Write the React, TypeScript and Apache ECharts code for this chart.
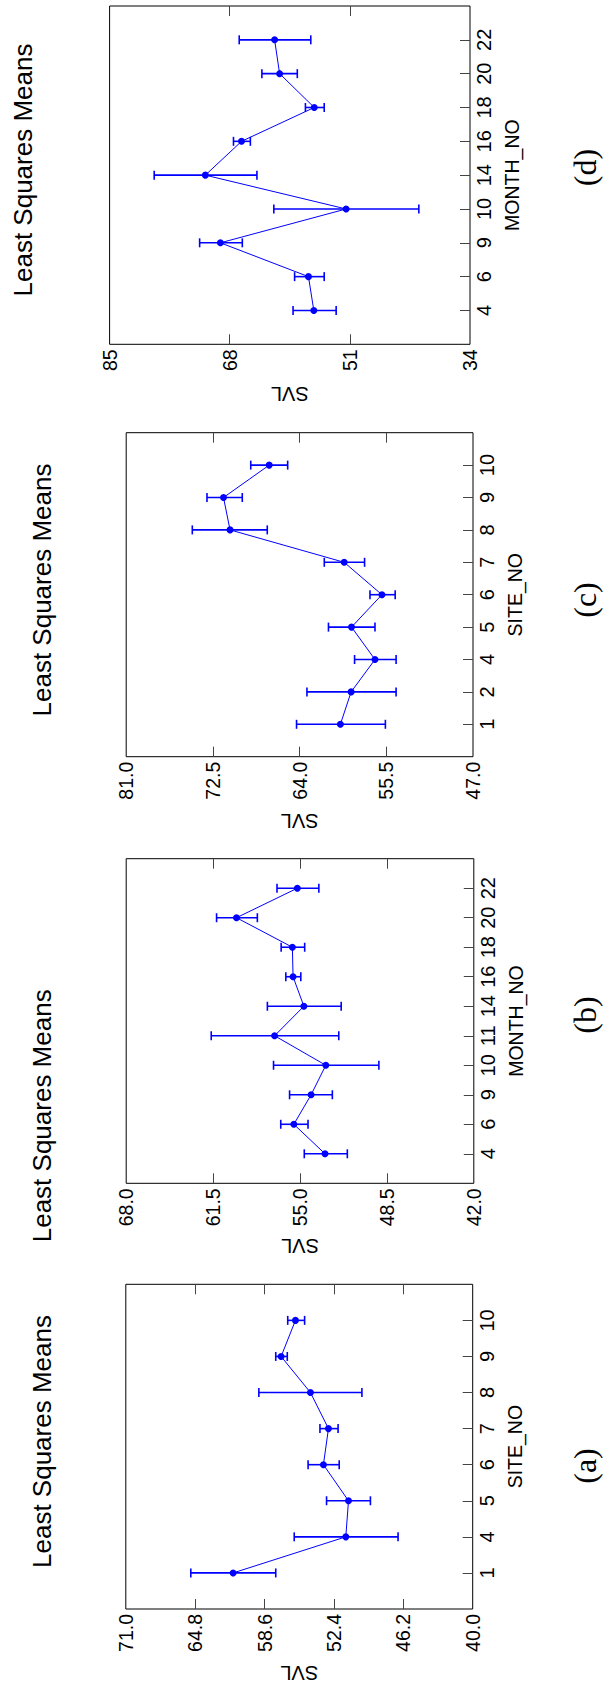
import React, { useEffect, useRef } from "react";
import * as echarts from "echarts";

// ---------- Data ----------
// Panel (d): SVL by MONTH_NO
const dCategories = ["4", "6", "9", "10", "14", "16", "18", "20", "22"];
const dMeans = [56.1, 56.86, 69.32, 51.53, 71.45, 66.33, 56.04, 60.94, 61.65];
const dLower = [52.94, 54.63, 66.22, 41.24, 64.15, 65.08, 54.63, 58.44, 56.53];
const dUpper = [59.04, 58.82, 72.26, 61.76, 78.69, 67.47, 57.29, 63.45, 66.66];
const dTicks = [34, 51, 68, 85];

// Panel (c): SVL by SITE_NO
const cCategories = ["1", "2", "4", "5", "6", "7", "8", "9", "10"];
const cMeans = [60.0, 58.95, 56.61, 58.91, 55.93, 59.63, 70.82, 71.46, 66.98];
const cLower = [55.59, 54.54, 54.54, 56.61, 54.63, 57.63, 67.17, 69.62, 65.17];
const cUpper = [64.3, 63.28, 58.61, 61.17, 57.1, 61.58, 74.52, 73.08, 68.79];
const cTicks = [47.0, 55.5, 64.0, 72.5, 81.0];

// Panel (b): SVL by MONTH_NO
const bCategories = ["4", "6", "9", "10", "11", "14", "16", "18", "20", "22"];
const bMeans = [53.13, 55.46, 54.17, 53.07, 56.9, 54.71, 55.52, 55.57, 59.75, 55.2];
const bLower = [51.46, 54.4, 52.58, 49.1, 52.1, 51.92, 54.94, 54.65, 58.19, 53.59];
const bUpper = [54.68, 56.44, 55.78, 56.98, 61.64, 57.44, 56.06, 56.41, 61.24, 56.72];
const bTicks = [42.0, 48.5, 55.0, 61.5, 68.0];

// Panel (a): SVL by SITE_NO
const aCategories = ["1", "4", "5", "6", "7", "8", "9", "10"];
const aMeans = [61.41, 51.34, 51.1, 53.34, 52.89, 54.5, 57.12, 55.84];
const aLower = [57.6, 46.67, 49.14, 51.93, 52.03, 49.9, 56.57, 55.02];
const aUpper = [65.19, 55.95, 53.06, 54.71, 53.65, 59.11, 57.6, 56.53];
const aTicks = [40.0, 46.2, 52.4, 58.6, 64.8, 71.0];

const titleText = "Least Squares Means";
const valueName = "SVL";
const captions = ["(d)", "(c)", "(b)", "(a)"];
const categoryNames = ["MONTH_NO", "SITE_NO", "MONTH_NO", "SITE_NO"];

// ---------- Layout / style ----------
const BLUE = "#0000ff";
const SANS = "'Liberation Sans', Arial, Helvetica, sans-serif";
const SERIF = "'Liberation Serif', 'Times New Roman', serif";

const panels = [
  { cats: dCategories, means: dMeans, lower: dLower, upper: dUpper, ticks: dTicks, dec: 0,
    grid: { left: 109.6, top: 6, width: 360.4, height: 338.3 }, nameGap: 40,
    title: { x: 22.5, y: 170 }, caption: { x: 584.5, y: 167.5 } },
  { cats: cCategories, means: cMeans, lower: cLower, upper: cUpper, ticks: cTicks, dec: 1,
    grid: { left: 126.2, top: 432.7, width: 346.8, height: 324 }, nameGap: 54,
    title: { x: 42, y: 590 }, caption: { x: 584.5, y: 600 } },
  { cats: bCategories, means: bMeans, lower: bLower, upper: bUpper, ticks: bTicks, dec: 1,
    grid: { left: 126.2, top: 858.7, width: 347.6, height: 324.6 }, nameGap: 53,
    title: { x: 42, y: 1115.8 }, caption: { x: 584.5, y: 1015 } },
  { cats: aCategories, means: aMeans, lower: aLower, upper: aUpper, ticks: aTicks, dec: 1,
    grid: { left: 125.8, top: 1284.3, width: 346.9, height: 324.7 }, nameGap: 54,
    title: { x: 42, y: 1441.5 }, caption: { x: 584.5, y: 1466 } },
];

function buildOption() {
  const grid: any[] = [];
  const xAxis: any[] = [];
  const yAxis: any[] = [];
  const series: any[] = [];
  const graphic: any[] = [];

  panels.forEach((p, i) => {
    const min = p.ticks[0];
    const max = p.ticks[p.ticks.length - 1];
    const inner = p.ticks.slice(1, -1);
    const axisCats = ["", ...p.cats, " "];
    const n = axisCats.length;

    grid.push({ ...p.grid, show: true, borderColor: "#000", borderWidth: 1, backgroundColor: "transparent" });

    // bottom value axis
    xAxis.push({
      type: "value", gridIndex: i, position: "bottom", min, max, inverse: true,
      axisLine: { show: false },
      splitLine: { show: false },
      axisTick: { show: true, inside: true, length: 10, customValues: inner, lineStyle: { color: "#444", width: 1 } },
      axisLabel: {
        show: true, rotate: 90, margin: 5, customValues: p.ticks,
        fontSize: 19.5, color: "#000", fontFamily: SANS,
        formatter: (v: number) => v.toFixed(p.dec),
      },
      name: valueName, nameLocation: "middle", nameRotate: 180, nameGap: p.nameGap,
      nameTextStyle: { fontSize: 20, color: "#000", fontFamily: SANS },
    });
    // top value axis (ticks only)
    xAxis.push({
      type: "value", gridIndex: i, position: "top", min, max, inverse: true,
      axisLine: { show: false },
      splitLine: { show: false },
      axisTick: { show: true, inside: true, length: 10, customValues: inner, lineStyle: { color: "#444", width: 1 } },
      axisLabel: { show: false },
    });
    // right category axis
    yAxis.push({
      type: "category", gridIndex: i, position: "right", data: axisCats, boundaryGap: false,
      axisLine: { show: false },
      splitLine: { show: false },
      axisTick: {
        show: true, inside: true, length: 10, lineStyle: { color: "#444", width: 1 },
        interval: (idx: number) => idx > 0 && idx < n - 1,
      },
      axisLabel: { show: true, interval: 0, rotate: 90, margin: 4, fontSize: 20, color: "#000", fontFamily: SANS },
      name: categoryNames[i], nameLocation: "middle", nameRotate: 90, nameGap: 32,
      nameTextStyle: { fontSize: 19.5, color: "#000", fontFamily: SANS },
    });

    const xIdx = i * 2;
    series.push({
      type: "custom",
      xAxisIndex: xIdx,
      yAxisIndex: i,
      dimensions: ["low", "high", "cat"],
      encode: { x: [0, 1], y: 2 },
      data: p.cats.map((c, k) => [p.lower[k], p.upper[k], c]),
      renderItem: (params: any, api: any) => {
        const y = api.value(2);
        const p1 = api.coord([api.value(0), y]);
        const p2 = api.coord([api.value(1), y]);
        const h = 4.5;
        const style = { stroke: BLUE, lineWidth: 1.6, fill: null };
        return {
          type: "group",
          children: [
            { type: "line", shape: { x1: p1[0], y1: p1[1], x2: p2[0], y2: p2[1] }, style },
            { type: "line", shape: { x1: p1[0], y1: p1[1] - h, x2: p1[0], y2: p1[1] + h }, style },
            { type: "line", shape: { x1: p2[0], y1: p2[1] - h, x2: p2[0], y2: p2[1] + h }, style },
          ],
        };
      },
      z: 2,
    });
    series.push({
      type: "line",
      xAxisIndex: xIdx,
      yAxisIndex: i,
      data: p.cats.map((c, k) => [p.means[k], c]),
      symbol: "circle",
      symbolSize: 7,
      lineStyle: { color: BLUE, width: 1 },
      itemStyle: { color: BLUE },
      z: 3,
    });

    graphic.push({
      type: "text", x: p.title.x, y: p.title.y, rotation: Math.PI / 2,
      style: { text: titleText, fontSize: 26, fontFamily: SANS, fill: "#000", align: "center", verticalAlign: "middle" },
    });
    graphic.push({
      type: "text", x: p.caption.x, y: p.caption.y, rotation: Math.PI / 2,
      style: { text: captions[i], fontSize: 32, fontFamily: SERIF, fill: "#000", align: "center", verticalAlign: "middle" },
    });
  });

  return {
    animation: false,
    backgroundColor: "#ffffff",
    grid,
    xAxis,
    yAxis,
    series,
    graphic,
  };
}

export default function App() {
  const ref = useRef<HTMLDivElement>(null);
  useEffect(() => {
    if (!ref.current) return;
    const chart = echarts.init(ref.current, undefined, { renderer: "svg" });
    chart.setOption(buildOption() as any);
    return () => chart.dispose();
  }, []);
  return (
    <div
      ref={ref}
      style={{ position: "absolute", left: 0, top: 0, width: 603, height: 1687, background: "#fff" }}
    />
  );
}
